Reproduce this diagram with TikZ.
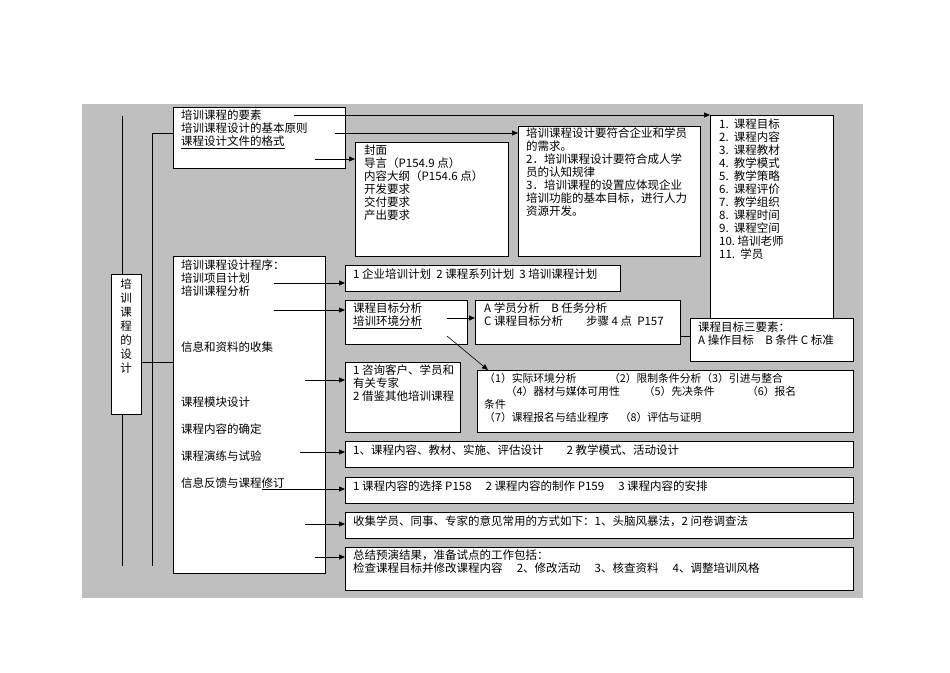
\documentclass[tikz,border=0pt]{standalone}
\usepackage{fontspec}
\setmainfont{Noto Sans CJK SC}
\usetikzlibrary{arrows.meta}
\begin{document}
\begin{tikzpicture}[x=1pt,y=-1pt,
  box/.style={draw=black,line width=0.8pt,fill=white,anchor=north west,inner sep=0pt},
  txt/.style={anchor=north west,inner sep=0pt,align=left,font=\fontsize{11.5}{13}\selectfont},
  ln/.style={line width=0.6pt},
  arr/.style={ln,-{Triangle[length=6pt,width=5pt]}}]
\useasboundingbox (0,0) rectangle (950,672);
\fill[black!25] (82,104) rectangle (863,598);
% left lines
\coordinate (l1t) at (122,116); \coordinate (l1b) at (122,566);
\coordinate (l2t) at (152,133); \coordinate (l2b) at (152,566);
\draw[ln] (l1t) -- (l1b);
\draw[ln] (l2t) -- (l2b);
\node[box,minimum width=30,minimum height=140] (V) at (111,274) {};
\node[anchor=north,inner sep=0pt,align=center,font=\fontsize{11.5}{14}\selectfont] (Vt) at (126,279) {培\\训\\课\\程\\的\\设\\计};
% boxes
\node[box,minimum width=172,minimum height=61] (A) at (173,107) {};
\node[txt] (At) at (181,110) {培训课程的要素\\培训课程设计的基本原则\\\underline{课程设计文件的格式}};
\node[box,minimum width=153,minimum height=114] (B) at (355,142) {};
\node[txt] (Bt) at (364,145) {封面\\导言（P154.9 点）\\内容大纲（P154.6 点）\\开发要求\\交付要求\\产出要求};
\node[box,minimum width=182,minimum height=130] (C) at (518,126) {};
\node[txt] (Ct) at (526,128) {培训课程设计要符合企业和学员\\的需求。\\2．培训课程设计要符合成人学\\员的认知规律\\3．培训课程的设置应体现企业\\培训功能的基本目标，进行人力\\资源开发。};
\node[box,minimum width=123,minimum height=210] (D) at (710,115) {};
\node[txt] (Dt) at (719,119) {1.\ \ 课程目标\\2.\ \ 课程内容\\3.\ \ 课程教材\\4.\ \ 教学模式\\5.\ \ 教学策略\\6.\ \ 课程评价\\7.\ \ 教学组织\\8.\ \ 课程时间\\9.\ \ 课程空间\\10.\ 培训老师\\11.\ \ 学员};
\node[box,minimum width=163,minimum height=43] (E) at (690,318) {};
\node[txt] (Et) at (698,322) {课程目标三要素：\\A 操作目标\quad B 条件 C 标准};
\node[box,minimum width=152,minimum height=317] (G) at (173,256) {};
\node[txt] (G1) at (181,260) {培训课程设计程序：\\培训项目计划\\培训课程分析};
\node[txt] (G2) at (181,342) {信息和资料的收集};
\node[txt] (G3) at (181,397) {课程模块设计};
\node[txt] (G4) at (181,424) {课程内容的确定};
\node[txt] (G5) at (181,451) {课程演练与试验};
\node[txt] (G6) at (181,478) {信息反馈与课程修订};
\node[box,minimum width=275,minimum height=26] (H) at (345,265) {};
\node[txt] (Ht) at (353,269) {1 企业培训计划\ \ 2 课程系列计划\ \ 3 培训课程计划};
\node[box,minimum width=122,minimum height=44] (I) at (345,300) {};
\node[txt] (It) at (353,303) {课程目标分析\\\underline{培训环境分析}};
\node[box,minimum width=205,minimum height=44] (F) at (475,300) {};
\node[txt] (Ft) at (484,303) {A 学员分析\quad B 任务分析\\C 课程目标分析\qquad 步骤 4 点\ \ P157};
\node[box,minimum width=115,minimum height=70] (J) at (345,362) {};
\node[txt] (Jt) at (353,365) {1 咨询客户、学员和\\有关专家\\2 借鉴其他培训课程};
\node[box,minimum width=376,minimum height=62] (K) at (477,370) {};
\node[txt,font=\fontsize{10.8}{13}\selectfont] (Kt) at (484,373) {（1）实际环境分析\qquad\quad （2）限制条件分析（3）引进与整合\\\qquad（4）器材与媒体可用性\qquad\ （5）先决条件\qquad\quad （6）报名\\条件\\（7）课程报名与结业程序\quad （8）评估与证明};
\node[box,minimum width=508,minimum height=26] (L) at (345,441) {};
\node[txt] (Lt) at (353,445) {1、课程内容、教材、实施、评估设计\qquad 2 教学模式、活动设计};
\node[box,minimum width=508,minimum height=26] (M) at (345,477) {};
\node[txt] (Mt) at (353,481) {1 课程内容的选择 P158\quad\ 2 课程内容的制作 P159\quad\ 3 课程内容的安排};
\node[box,minimum width=508,minimum height=26] (N) at (345,512) {};
\node[txt] (Nt) at (353,516) {收集学员、同事、专家的意见常用的方式如下：1、头脑风暴法，2 问卷调查法};
\node[box,minimum width=508,minimum height=43] (O) at (345,547) {};
\node[txt] (Ot) at (353,550) {总结预演结果，准备试点的工作包括：\\检查课程目标并修改课程内容\quad\ 2、修改活动\quad\ 3、核查资料\quad\ 4、调整培训风格};
% connectors
\draw[ln] (l2t) -- (A.west |- l2t);
\draw[ln] (V.east |- 0,362) -- (G.west |- 0,362);
\coordinate (a1) at (294,115); \coordinate (a2) at (335,133); \coordinate (a3) at (315,159);
\draw[arr] (a1) -- (D.west |- a1);
\draw[arr] (a2) -- (C.west |- a2);
\draw[arr] (a3) -- (B.west |- a3);
\coordinate (g1) at (274,283); \coordinate (g2) at (274,310); \coordinate (g3) at (305,380);
\coordinate (g4) at (300,452); \coordinate (g5) at (262,489); \coordinate (g6) at (305,524); \coordinate (g7) at (315,557);
\draw[arr] (g1) -- (H.west |- g1);
\draw[arr] (g2) -- (I.west |- g2);
\draw[arr] (g3) -- (J.west |- g3);
\draw[arr] (g4) -- (L.west |- g4);
\draw[arr] (g5) -- (M.west |- g5);
\draw[arr] (g6) -- (N.west |- g6);
\draw[arr] (g7) -- (O.west |- g7);
\coordinate (i1) at (447,318); \coordinate (i2) at (447,336);
\draw[arr] (i1) -- (F.west |- i1);
\draw[arr] (i2) -- (488,370) coordinate (kk);
\draw[ln] (F.east |- 0,336) -- (E.west |- 0,336);
\end{tikzpicture}
\end{document}
